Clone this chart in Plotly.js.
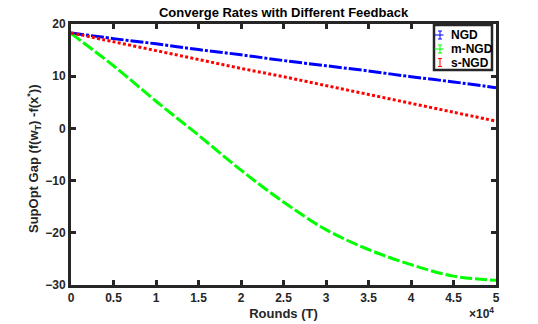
<!DOCTYPE html>
<html>
<head>
<meta charset="utf-8">
<script src="https://cdn.plot.ly/plotly-3.0.1.min.js"></script>
<style>
html,body{margin:0;padding:0;background:#fff;}
#chart{width:538px;height:324px;}
</style>
</head>
<body>
<div id="chart"></div>
<script>
// Rounds (T)
var rounds = [0, 5000, 10000, 15000, 20000, 25000, 30000, 35000, 40000, 45000, 50000];
// Series values
var ngd  = [18.3, 17.2, 16.2, 15.1, 14.1, 13.0, 12.0, 11.0, 9.9, 8.9, 7.8];
var mngd = [18.2, 12.0, 5.2, -1.3, -8.0, -14.1, -19.4, -23.2, -26.1, -28.3, -29.1];
var sngd = [18.3, 16.6, 14.9, 13.2, 11.5, 9.9, 8.2, 6.5, 4.8, 3.1, 1.4];
var seriesNames = ['NGD', 'm-NGD', 's-NGD'];
var seriesColors = ['#0000ff', '#00ff00', '#ff0000'];
var seriesDash = ['13px,2px,3px,2px', '12px,3px', '3px,2.3px'];
// Tick labels
var xTickVals = [0, 5000, 10000, 15000, 20000, 25000, 30000, 35000, 40000, 45000, 50000];
var xTickText = ['0', '0.5', '1', '1.5', '2', '2.5', '3', '3.5', '4', '4.5', '5'];
var yTickVals = [-30, -20, -10, 0, 10, 20];

var FONT = 'Liberation Sans, Arial, Helvetica, sans-serif';
var AX = '#262626';

var W = 538, H = 324, ML = 71, MR = 42, MT = 24, MB = 39;
var PW = W - ML - MR, PH = H - MT - MB;
function px(xp) { return (xp - ML) / PW; }
function py(yp) { return (H - MB - yp) / PH; }

var seriesData = [ngd, mngd, sngd];
var traces = seriesData.map(function (d, i) {
  return {x: rounds, y: d, name: seriesNames[i], mode: 'lines', type: 'scatter',
          showlegend: false,
          line: {color: seriesColors[i], width: 3, dash: seriesDash[i], shape: 'spline'}};
});

// Hand-made compact legend (MATLAB style, errorbar icons)
var shapes = [{
  type: 'rect', xref: 'paper', yref: 'paper',
  x0: px(434), x1: px(492), y0: py(70), y1: py(25),
  line: {color: AX, width: 2.5}, fillcolor: '#fff', layer: 'above'
}];
var annotations = [];
var rowY = [35, 49, 62.5];
seriesNames.forEach(function (n, i) {
  var yc = rowY[i], xc = 440;
  if (i < 2) {
    shapes.push({type: 'line', xref: 'paper', yref: 'paper', x0: px(434.5), x1: px(446), y0: py(yc), y1: py(yc),
                 line: {color: seriesColors[i], width: 1, dash: i === 0 ? 'dashdot' : 'dash'}, layer: 'above'});
  }
  shapes.push({type: 'line', xref: 'paper', yref: 'paper', x0: px(xc), x1: px(xc), y0: py(yc - 4), y1: py(yc + 4),
               line: {color: seriesColors[i], width: 1}, layer: 'above'});
  shapes.push({type: 'line', xref: 'paper', yref: 'paper', x0: px(xc - 2), x1: px(xc + 2), y0: py(yc - 4), y1: py(yc - 4),
               line: {color: seriesColors[i], width: 1}, layer: 'above'});
  shapes.push({type: 'line', xref: 'paper', yref: 'paper', x0: px(xc - 2), x1: px(xc + 2), y0: py(yc + 4), y1: py(yc + 4),
               line: {color: seriesColors[i], width: 1}, layer: 'above'});
  annotations.push({text: '<b>' + n + '</b>', xref: 'paper', yref: 'paper', x: px(449), y: py(yc),
                    xanchor: 'left', yanchor: 'middle', showarrow: false,
                    font: {family: FONT, size: 12, color: '#000'}});
});
annotations.push({
  text: '<b>×10<sup>4</sup></b>', xref: 'paper', yref: 'paper',
  x: 1.0, y: py(303), xanchor: 'right', yanchor: 'top', showarrow: false,
  font: {family: FONT, size: 12, color: AX}
});
annotations.push({
  text: '<b>SupOpt Gap (f(w<sub>T</sub>) -f(x<sup>*</sup>))</b>', xref: 'paper', yref: 'paper',
  x: px(34), y: py(159), xanchor: 'center', yanchor: 'middle', textangle: -90, showarrow: false,
  font: {family: FONT, size: 13, color: AX}
});

var layout = {
  width: W, height: H,
  margin: {l: ML, r: MR, t: MT, b: MB, pad: 0},
  paper_bgcolor: '#fff', plot_bgcolor: '#fff',
  font: {family: FONT, size: 12, color: AX, weight: 'bold'},
  title: {text: '<b>Converge Rates with Different Feedback</b>', x: 0.527, xanchor: 'center',
          y: 0.962, yanchor: 'middle', font: {family: FONT, size: 13, color: '#000'}},
  xaxis: {
    range: [0, 50000], tickvals: xTickVals, ticktext: xTickText,
    showline: true, linewidth: 3, linecolor: AX, mirror: 'allticks',
    ticks: 'inside', ticklen: 5, tickwidth: 3, tickcolor: AX,
    showgrid: false, zeroline: false,
    tickfont: {family: FONT, size: 12, color: AX, weight: 'bold'},
    title: {text: '<b>Rounds (T)</b>', standoff: 5, font: {family: FONT, size: 13, color: AX}}
  },
  yaxis: {
    range: [-30, 20], tickvals: yTickVals,
    showline: true, linewidth: 3, linecolor: AX, mirror: 'allticks',
    ticks: 'inside', ticklen: 5, tickwidth: 3, tickcolor: AX,
    showgrid: false, zeroline: false,
    tickfont: {family: FONT, size: 12, color: AX, weight: 'bold'}
  },
  showlegend: false,
  shapes: shapes,
  annotations: annotations
};

Plotly.newPlot('chart', traces, layout, {staticPlot: true, displayModeBar: false});
</script>
</body>
</html>
